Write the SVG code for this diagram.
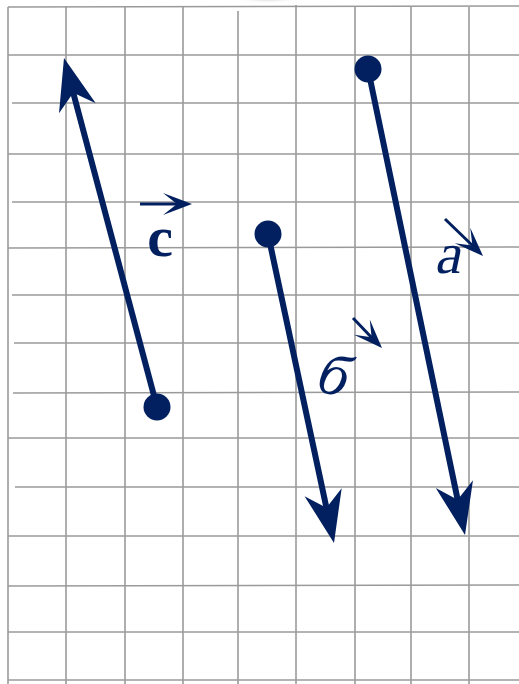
<svg xmlns="http://www.w3.org/2000/svg" xmlns:xlink="http://www.w3.org/1999/xlink" width="519" height="684" viewBox="0 0 519 684">
  <style>
    .grid line { stroke: #9a9a9a; stroke-width: 1.6; }
    .vec { stroke: #02205f; stroke-width: 6; fill: none; }
    .small { stroke: #02205f; stroke-width: 3; fill: none; }
    .head { fill: #02205f; }
    .dot { fill: #02205f; }
    .lbl { font-family: "Liberation Serif", "Times New Roman", serif; fill: #02205f; }
  </style>
  <defs>
    <path id="bighead" d="M0,0 L-52,-19 L-36,0 L-52,19 Z"/>
    <path id="smallhead" d="M0,0 L-29,-11 L-15,0 L-29,11 Z"/>
    <radialGradient id="shadow" cx="0.5" cy="0.2" r="0.5">
      <stop offset="0" stop-color="#8fa9d8"/>
      <stop offset="0.35" stop-color="#b8b8b8"/>
      <stop offset="1" stop-color="#ffffff" stop-opacity="0"/>
    </radialGradient>
  </defs>
  <rect x="0" y="0" width="519" height="684" fill="#ffffff"/>
  <ellipse cx="268" cy="0" rx="40" ry="9" fill="url(#shadow)"/>

  <g id="grid" class="grid">
    <line x1="8" y1="7" x2="8" y2="684"/>
    <line x1="66" y1="6" x2="66" y2="684"/>
    <line x1="125" y1="7" x2="125" y2="684"/>
    <line x1="183" y1="7" x2="183" y2="684"/>
    <line x1="238" y1="11" x2="238" y2="684"/>
    <line x1="296" y1="5" x2="296" y2="684"/>
    <line x1="355" y1="7" x2="355" y2="684"/>
    <line x1="411" y1="7" x2="411" y2="684"/>
    <line x1="469" y1="7" x2="469" y2="684"/>

    <line x1="8" y1="7" x2="519" y2="6"/>
    <line x1="8" y1="55" x2="519" y2="55"/>
    <line x1="12" y1="103" x2="519" y2="103"/>
    <line x1="8" y1="154" x2="519" y2="154"/>
    <line x1="12" y1="202" x2="519" y2="202"/>
    <line x1="8" y1="248" x2="519" y2="247"/>
    <line x1="12" y1="295" x2="519" y2="295"/>
    <line x1="14" y1="343" x2="519" y2="343"/>
    <line x1="13" y1="393" x2="519" y2="392"/>
    <line x1="8" y1="438" x2="519" y2="438"/>
    <line x1="15" y1="487" x2="519" y2="487"/>
    <line x1="8" y1="536" x2="519" y2="536"/>
    <line x1="8" y1="586" x2="519" y2="585"/>
    <line x1="8" y1="632" x2="519" y2="632"/>
    <line x1="8" y1="680" x2="519" y2="680"/>
  </g>

  <g id="connectors">
    <g id="vector-c">
      <line class="vec" x1="157" y1="407" x2="71.7" y2="87"/>
      <use xlink:href="#bighead" class="head" transform="translate(64,58) rotate(-104.9)"/>
    </g>
    <g id="vector-b">
      <line class="vec" x1="268" y1="234" x2="327.7" y2="513.7"/>
      <use xlink:href="#bighead" class="head" transform="translate(334,543) rotate(77.9)"/>
    </g>
    <g id="vector-a">
      <line class="vec" x1="368" y1="69" x2="458.9" y2="505.6"/>
      <use xlink:href="#bighead" class="head" transform="translate(465,535) rotate(78.2)"/>
    </g>
  </g>

  <g id="node-c-start">
    <circle class="dot" cx="157" cy="407" r="13.5"/>
  </g>
  <g id="node-b-start">
    <circle class="dot" cx="268" cy="234" r="13.5"/>
  </g>
  <g id="node-a-start">
    <circle class="dot" cx="368" cy="69" r="13.5"/>
  </g>

  <g id="label-c">
    <line class="small" x1="140" y1="204" x2="179" y2="204"/>
    <use xlink:href="#smallhead" class="head" transform="translate(192,204)"/>
    <text class="lbl" x="160" y="256" font-size="58" font-weight="bold" text-anchor="middle">c</text>
  </g>
  <g id="label-b">
    <line class="small" x1="353" y1="318" x2="373" y2="339"/>
    <use xlink:href="#smallhead" class="head" transform="translate(382,348) rotate(46)"/>
    <text class="lbl" font-size="60" font-style="italic" text-anchor="middle" transform="translate(329,394) rotate(16)">б</text>
  </g>
  <g id="label-a">
    <line class="small" x1="445" y1="219" x2="474" y2="247"/>
    <use xlink:href="#smallhead" class="head" transform="translate(483,256) rotate(45)"/>
    <text class="lbl" font-size="58" text-anchor="middle" transform="translate(447,273) skewX(-12)">a</text>
  </g>
</svg>
